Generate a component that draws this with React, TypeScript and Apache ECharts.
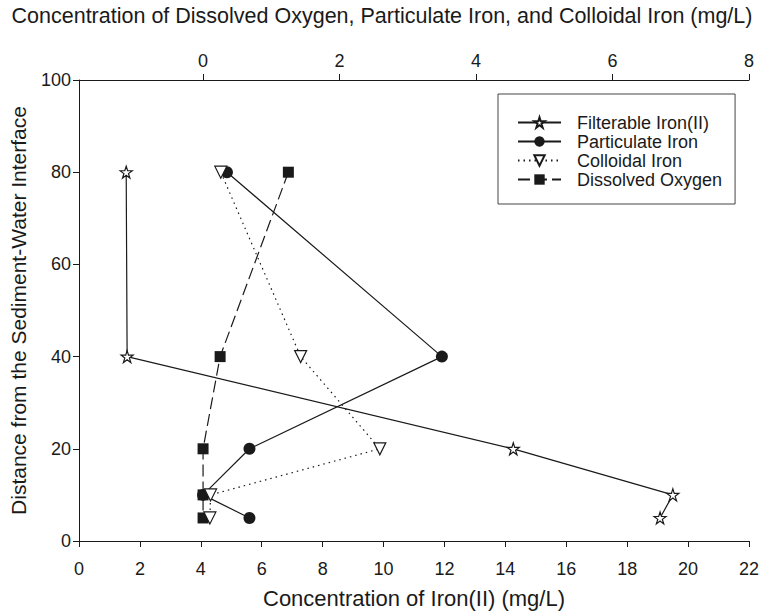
import React, { useEffect, useRef } from "react";
import * as echarts from "echarts";

// Distance from the sediment-water interface (y)
const depths = [80, 40, 20, 10, 5];
// Bottom axis: Filterable Iron(II) (mg/L)
const filterableIron = [1.55, 1.58, 14.26, 19.5, 19.08];
// Top axis: mg/L
const particulateIron = [0.35, 3.5, 0.68, 0.0, 0.68];
const colloidalIron = [0.26, 1.43, 2.59, 0.11, 0.1];
const dissolvedOxygen = [1.25, 0.25, 0.0, 0.0, 0.0];

const bottomTicks = [0, 22];
const topTickValues = [0, 2, 4, 6, 8];
const topRange = [-1.818, 8];
const yRange = [0, 100];

const FONT = "'Liberation Sans', Arial, Helvetica, sans-serif";
const TXT = "#1a1a1a";
const STAR =
  "path://M50,0 L61.2,34.5 L97.6,34.5 L68.2,55.9 L79.4,90.5 L50,69.1 L20.6,90.5 L31.8,55.9 L2.4,34.5 L38.8,34.5 Z";

const pairs = (xs: number[]) => xs.map((x, i) => [x, depths[i]]);

export default function App() {
  const ref = useRef<HTMLDivElement>(null);
  useEffect(() => {
    if (!ref.current) return;
    const chart = echarts.init(ref.current, undefined, { renderer: "svg" });
    const axisLine = { show: true, lineStyle: { color: TXT, width: 1 } };
    chart.setOption({
      animation: false,
      backgroundColor: "#fff",
      textStyle: { fontFamily: FONT, color: TXT },
      grid: { left: 76, right: 11, top: 75, bottom: 68, containLabel: false },
      legend: {
        orient: "vertical",
        left: 498,
        top: 94,
        padding: [19, 13, 15, 19],
        itemGap: 0,
        itemWidth: 43,
        itemHeight: 13,
        borderColor: "#444",
        borderWidth: 1,
        backgroundColor: "#fff",
        textStyle: { fontSize: 18, color: TXT, fontFamily: FONT, lineHeight: 19, padding: [0, 0, 0, 11] },
        data: ["Filterable Iron(II)", "Particulate Iron", "Colloidal Iron", "Dissolved Oxygen"],
      },
      xAxis: [
        {
          type: "value",
          position: "bottom",
          min: bottomTicks[0],
          max: bottomTicks[1],
          interval: 2,
          axisLine,
          axisTick: { show: true, length: 6, lineStyle: { color: TXT } },
          axisLabel: { fontSize: 18, color: TXT, margin: 19, fontFamily: FONT },
          splitLine: { show: false },
          name: "Concentration of Iron(II) (mg/L)",
          nameLocation: "middle",
          nameGap: 46,
          nameTextStyle: { fontSize: 22, color: TXT, fontFamily: FONT },
        },
        {
          type: "value",
          position: "top",
          min: topRange[0],
          max: topRange[1],
          axisLine,
          axisTick: { show: true, length: 6, customValues: topTickValues, lineStyle: { color: TXT } },
          axisLabel: { fontSize: 18, color: TXT, margin: 10, customValues: topTickValues, fontFamily: FONT },
          splitLine: { show: false },
          name: "Concentration of Dissolved Oxygen, Particulate Iron, and Colloidal Iron (mg/L)",
          nameLocation: "middle",
          nameGap: 53,
          nameTextStyle: { fontSize: 21.5, color: TXT, fontFamily: FONT, padding: [0, 64, 0, 0] },
        },
      ],
      yAxis: {
        type: "value",
        min: yRange[0],
        max: yRange[1],
        interval: 20,
        axisLine,
        axisTick: { show: true, length: 6, lineStyle: { color: TXT } },
        axisLabel: { fontSize: 18, color: TXT, margin: 8, fontFamily: FONT },
        splitLine: { show: false },
        name: "Distance from the Sediment-Water Interface",
        nameLocation: "middle",
        nameGap: 50,
        nameTextStyle: { fontSize: 21, color: TXT, fontFamily: FONT },
      },
      series: [
        {
          name: "Filterable Iron(II)",
          type: "line",
          xAxisIndex: 0,
          data: pairs(filterableIron),
          symbol: STAR,
          symbolSize: 12,
          lineStyle: { color: TXT, width: 1.2, type: "solid" },
          itemStyle: { color: "#fff", borderColor: TXT, borderWidth: 1.2 },
          z: 3,
        },
        {
          name: "Particulate Iron",
          type: "line",
          xAxisIndex: 1,
          data: pairs(particulateIron),
          symbol: "circle",
          symbolSize: 12,
          lineStyle: { color: TXT, width: 1.2, type: "solid" },
          itemStyle: { color: TXT, borderColor: TXT, borderWidth: 0 },
          z: 4,
        },
        {
          name: "Colloidal Iron",
          type: "line",
          xAxisIndex: 1,
          data: pairs(colloidalIron),
          symbol: "triangle",
          symbolRotate: 180,
          symbolSize: 12,
          lineStyle: { color: TXT, width: 1.2, type: [1.5, 4] },
          itemStyle: { color: "#fff", borderColor: TXT, borderWidth: 1.2 },
          z: 5,
        },
        {
          name: "Dissolved Oxygen",
          type: "line",
          xAxisIndex: 1,
          data: pairs(dissolvedOxygen),
          symbol: "rect",
          symbolSize: 11,
          lineStyle: { color: TXT, width: 1.2, type: [12, 5] },
          itemStyle: { color: TXT, borderColor: TXT, borderWidth: 0 },
          z: 3,
        },
      ],
    });
    return () => chart.dispose();
  }, []);
  return (
    <div
      ref={ref}
      style={{ position: "absolute", left: 0, top: 0, width: 762, height: 614 }}
    />
  );
}
